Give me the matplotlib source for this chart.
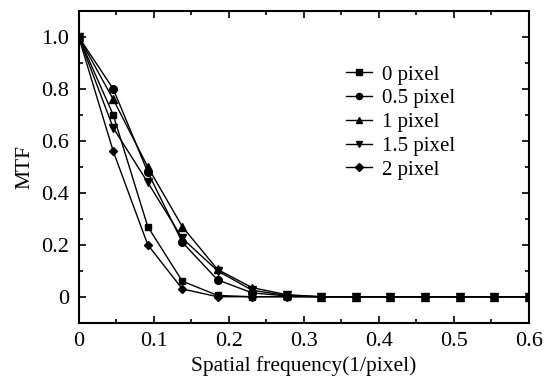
import matplotlib
matplotlib.use("Agg")
import matplotlib.pyplot as plt
from matplotlib.ticker import MultipleLocator, FuncFormatter

plt.rcParams['font.family'] = ['Liberation Serif', 'DejaVu Serif']

freq = [0, 0.046, 0.092, 0.138, 0.185, 0.231, 0.277, 0.323, 0.369, 0.415, 0.462, 0.508, 0.554, 0.6]

mtf_0 = [1.0, 0.70, 0.27, 0.06, 0.005, 0.0, 0.0, 0.0, 0.0, 0.0, 0.0, 0.0, 0.0, 0.0]
mtf_05 = [1.0, 0.80, 0.48, 0.21, 0.065, 0.015, 0.003, 0.0, 0.0, 0.0, 0.0, 0.0, 0.0, 0.0]
mtf_1 = [1.0, 0.76, 0.50, 0.27, 0.105, 0.035, 0.008, 0.0, 0.0, 0.0, 0.0, 0.0, 0.0, 0.0]
mtf_15 = [1.0, 0.65, 0.44, 0.225, 0.10, 0.025, 0.005, 0.0, 0.0, 0.0, 0.0, 0.0, 0.0, 0.0]
mtf_2 = [1.0, 0.56, 0.20, 0.03, 0.0, 0.0, 0.0, 0.0, 0.0, 0.0, 0.0, 0.0, 0.0, 0.0]

labels = ["0 pixel", "0.5 pixel", "1 pixel", "1.5 pixel", "2 pixel"]
series = [mtf_0, mtf_05, mtf_1, mtf_15, mtf_2]
markers = ["s", "o", "^", "v", "D"]
msizes = [5, 5.5, 6, 6, 4.5]

fig = plt.figure(figsize=(5.44, 3.85), dpi=100)
ax = fig.add_axes([0.1447, 0.1618, 0.8277, 0.8096])

for y, lab, m, ms in zip(series, labels, markers, msizes):
    ax.plot(freq, y, color="black", lw=1.0, marker=m, ms=ms, label=lab)

ax.set_xlim(0, 0.6)
ax.set_ylim(-0.1, 1.1)
ax.xaxis.set_major_locator(MultipleLocator(0.1))
ax.xaxis.set_minor_locator(MultipleLocator(0.05))
ax.yaxis.set_major_locator(MultipleLocator(0.2))
ax.yaxis.set_minor_locator(MultipleLocator(0.1))
ax.xaxis.set_major_formatter(FuncFormatter(lambda v, p: "0" if abs(v) < 1e-9 else f"{v:.1f}"))
ax.yaxis.set_major_formatter(FuncFormatter(lambda v, p: "0" if abs(v) < 1e-9 else f"{v:.1f}"))

ax.tick_params(which="both", direction="in", top=True, right=True, width=1.2, labelsize=16, pad=7)
ax.tick_params(which="major", length=5)
ax.tick_params(which="minor", length=3)
for s in ax.spines.values():
    s.set_linewidth(1.5)

ax.set_xlabel("Spatial frequency(1/pixel)", fontsize=15.5, labelpad=3)
ax.set_ylabel("MTF", fontsize=15.5, labelpad=5)

leg = ax.legend(loc="upper left", bbox_to_anchor=(0.57, 0.86), frameon=False, fontsize=15,
                handlelength=1.25, handletextpad=0.5, labelspacing=0.2, borderpad=0,
                markerscale=0.8)

fig.savefig("out.png", dpi=100)
